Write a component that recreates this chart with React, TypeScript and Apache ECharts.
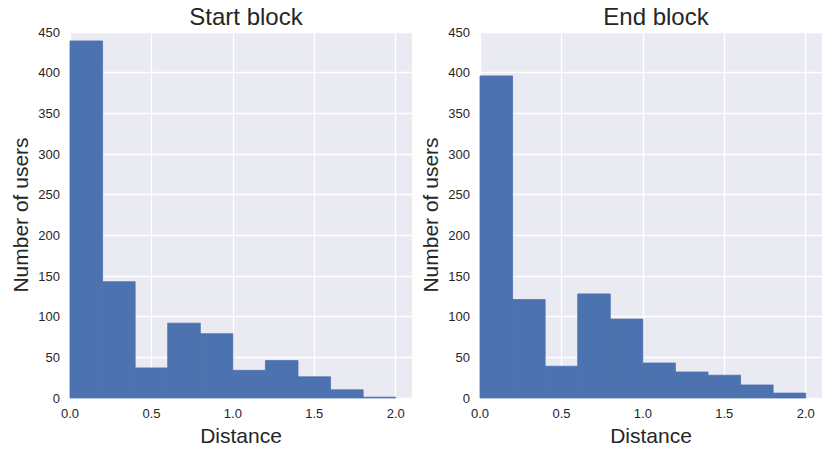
import React, { useEffect, useRef } from "react";
import * as echarts from "echarts";

const binEdges = [0.0, 0.2, 0.4, 0.6, 0.8, 1.0, 1.2, 1.4, 1.6, 1.8, 2.0];
const startCounts = [439, 143, 37, 92, 79, 34, 46, 26, 10, 1];
const endCounts = [396, 121, 39, 128, 97, 43, 32, 28, 16, 6];
const titles = ["Start block", "End block"];
const xLabel = "Distance";
const yLabel = "Number of users";

const FONT = "Liberation Sans, Arial, sans-serif";
const TXT = "#262626";

function histData(counts: number[]) {
  return counts.map((c, i) => [binEdges[i], binEdges[i + 1], c]);
}

export default function App() {
  const ref = useRef<HTMLDivElement>(null);
  useEffect(() => {
    if (!ref.current) return;
    const chart = echarts.init(ref.current, null, { renderer: "svg" });
    const grids = [
      { left: 70, top: 32, width: 342, height: 366 },
      { left: 480, top: 32, width: 342, height: 366 },
    ];
    const renderItem = (params: any, api: any) => {
      const s = api.coord([api.value(0), api.value(2)]);
      const e = api.coord([api.value(1), 0]);
      return {
        type: "rect",
        shape: { x: s[0], y: s[1], width: e[0] - s[0], height: e[1] - s[1] },
        style: { fill: "#4C72B0", stroke: "#4C72B0", lineWidth: 0.8 },
      };
    };
    const xAxes = grids.map((_, i) => ({
      type: "value",
      gridIndex: i,
      min: 0,
      max: 2.1,
      interval: 0.5,
      name: xLabel,
      nameLocation: "middle",
      nameGap: 25,
      nameTextStyle: { fontFamily: FONT, fontSize: 21, color: TXT },
      axisLine: { show: false },
      axisTick: { show: false },
      axisLabel: {
        fontFamily: FONT,
        fontSize: 13,
        color: TXT,
        margin: 9,
        showMaxLabel: false,
        formatter: (v: number) => v.toFixed(1),
      },
      splitLine: { show: true, showMaxLine: false, lineStyle: { color: "#ffffff", width: 1.3 } },
    }));
    const yAxes = grids.map((_, i) => ({
      type: "value",
      gridIndex: i,
      min: 0,
      max: 450,
      interval: 50,
      name: yLabel,
      nameLocation: "middle",
      nameGap: 39,
      nameTextStyle: { fontFamily: FONT, fontSize: 21, color: TXT },
      axisLine: { show: false },
      axisTick: { show: false },
      axisLabel: { fontFamily: FONT, fontSize: 13, color: TXT, margin: 10 },
      splitLine: { show: true, lineStyle: { color: "#ffffff", width: 1.3 } },
    }));
    chart.setOption({
      animation: false,
      backgroundColor: "#ffffff",
      title: titles.map((t, i) => ({
        text: t,
        left: grids[i].left + grids[i].width / 2,
        top: -1,
        textAlign: "center",
        textStyle: { fontFamily: FONT, fontSize: 24, fontWeight: "normal", color: TXT },
      })),
      grid: grids.map((g) => ({
        ...g,
        show: true,
        backgroundColor: "#EAEAF2",
        borderWidth: 0,
      })),
      xAxis: xAxes,
      yAxis: yAxes,
      series: [startCounts, endCounts].map((counts, i) => ({
        type: "custom",
        xAxisIndex: i,
        yAxisIndex: i,
        renderItem,
        encode: { x: [0, 1], y: 2 },
        data: histData(counts),
      })),
    });
    return () => chart.dispose();
  }, []);
  return (
    <div
      ref={ref}
      style={{ position: "absolute", left: 0, top: 0, width: 822, height: 452 }}
    />
  );
}
